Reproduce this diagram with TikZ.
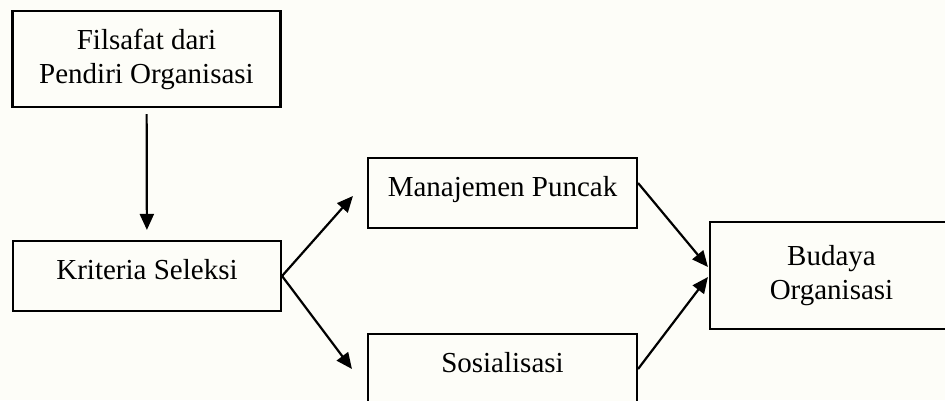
\documentclass[tikz,border=0pt]{standalone}
\usepackage{fontspec}
\setmainfont{Liberation Serif}
\usepackage{tikz}
\usetikzlibrary{arrows.meta,positioning,calc}

\definecolor{paper}{RGB}{253,253,248}

\begin{document}
\begin{tikzpicture}[x=1pt, y=-1pt,
                    every box/.style = {fill=paper, font=\fontsize{29}{34}\selectfont},
                    box/.style = {rectangle, draw=black, line width=2.1pt, align=center,
                            inner sep=0pt, minimum width=268pt, minimum height=70pt, every box},
                    one line/.style = {box, text height=20pt, text depth=13pt},
                    tall box/.style = {box, minimum height=96pt},
                    flow/.style = {-{Triangle[length=16pt,width=14pt]}, line width=2.2pt} ]

                \clip (0,0) rectangle (945,400);
                \fill[paper] (0,0) rectangle (945,400);

                \node [tall box] (filsafat) at (146.5,59) {Filsafat dari\\Pendiri Organisasi};
                \node [one line] (kriteria) at (147,276) {Kriteria Seleksi};
                \node [one line, minimum width=269pt] (manajemen) at (502.5,193) {Manajemen Puncak};
                \node [one line, minimum width=269pt] (sosialisasi) at (502.5,369) {Sosialisasi};
                \node [box, minimum width=243pt, minimum height=107pt] (budaya) at (831.5,275.5) {Budaya\\Organisasi};

                % down to the selection
                \draw [flow, shorten <=6pt, shorten >=10pt] (filsafat) -- (kriteria);

                % split
                \draw [flow] (kriteria.east) -- ($(manajemen.west)+(-14,3)$);
                \draw [flow] (kriteria.east) -- ($(sosialisasi.west)+(-15,0)$);

                % join
                \draw [flow] ($(manajemen.east)+(0,-10)$) -- ($(budaya.west)+(-1,-8.5)$);
                \draw [flow] (sosialisasi.east) -- ($(budaya.west)+(-1,1.5)$);
            \end{tikzpicture}
\end{document}
